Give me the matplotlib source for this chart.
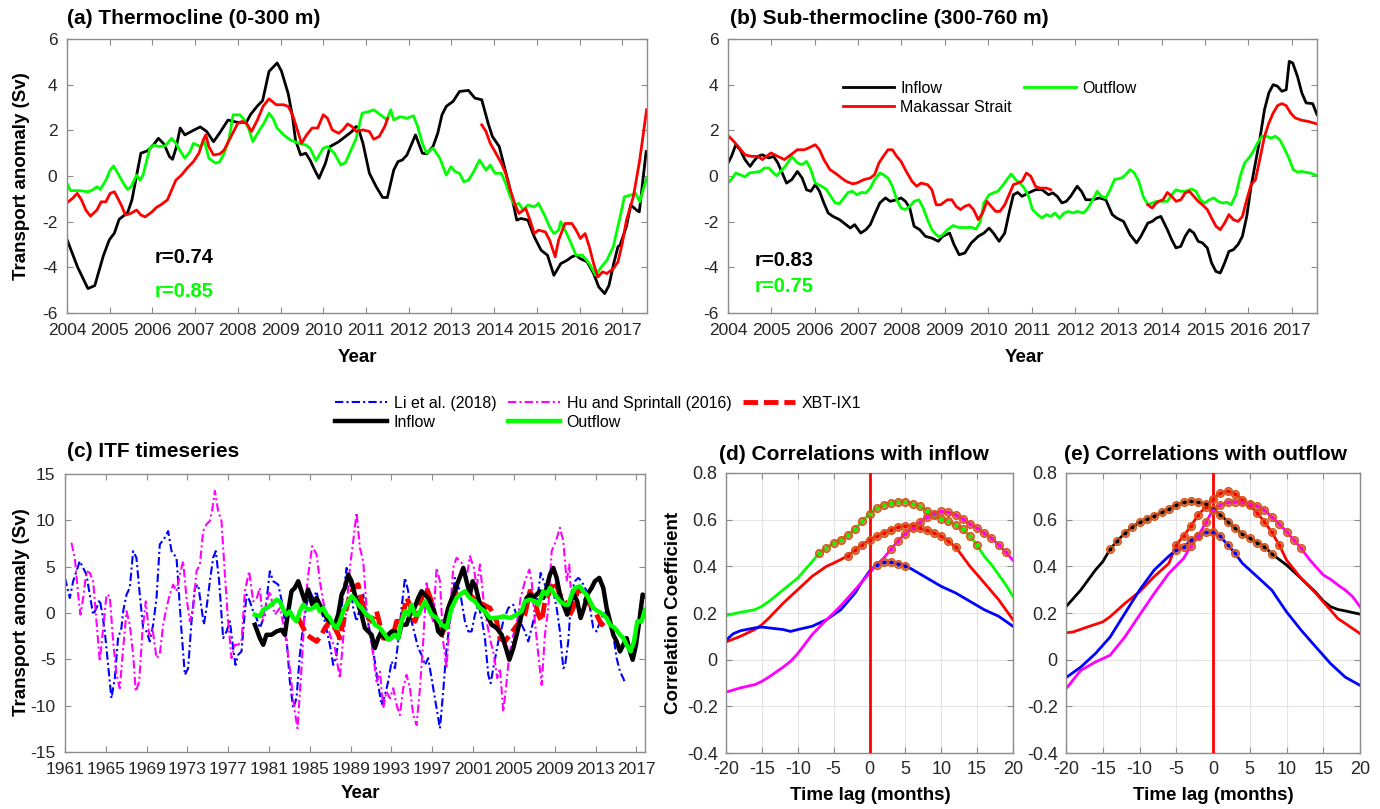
import matplotlib
matplotlib.use('Agg')
import matplotlib.pyplot as plt
import numpy as np

plt.rcParams['font.family'] = ['Liberation Sans', 'DejaVu Sans']
plt.rcParams['axes.unicode_minus'] = False

# ---------------- Panel (a): thermocline ----------------
a_in_t = [2004.00, 2004.25, 2004.49, 2004.65, 2004.85, 2004.99, 2005.11, 2005.22, 2005.42, 2005.52, 2005.73, 2005.88,
          2006.04, 2006.14, 2006.27, 2006.40, 2006.47, 2006.55, 2006.65, 2006.76, 2006.96, 2007.12, 2007.27, 2007.43,
          2007.58, 2007.77, 2007.99, 2008.20, 2008.30, 2008.46, 2008.58, 2008.73, 2008.92, 2009.02, 2009.18, 2009.28,
          2009.35, 2009.47, 2009.59, 2009.69, 2009.80, 2009.90, 2010.05, 2010.16, 2010.36, 2010.52, 2010.67, 2010.77,
          2010.82, 2010.93, 2011.08, 2011.24, 2011.39, 2011.50, 2011.65, 2011.75, 2011.85, 2011.96, 2012.16, 2012.32,
          2012.42, 2012.57, 2012.68, 2012.78, 2012.88, 2013.04, 2013.19, 2013.40, 2013.55, 2013.71, 2013.86, 2013.96,
          2014.12, 2014.22, 2014.32, 2014.43, 2014.53, 2014.63, 2014.79, 2014.94, 2015.10, 2015.25, 2015.40, 2015.56,
          2015.71, 2015.82, 2015.92, 2016.02, 2016.18, 2016.33, 2016.45, 2016.59, 2016.69, 2016.80, 2016.90, 2016.95,
          2017.10, 2017.20, 2017.34, 2017.40, 2017.56]
a_in_v = [-2.78, -4.00, -4.93, -4.80, -3.50, -2.80, -2.50, -1.90, -1.60, -1.05, 1.00, 1.10,
          1.40, 1.65, 1.40, 0.85, 0.73, 1.20, 2.10, 1.80, 2.00, 2.15, 1.95, 1.50,
          1.90, 2.45, 2.35, 2.35, 2.70, 3.07, 3.30, 4.58, 4.95, 4.60, 3.60, 2.60,
          1.58, 0.92, 1.00, 0.70, 0.26, -0.10, 0.55, 1.29, 1.50, 1.73, 1.95, 2.17,
          2.10, 1.43, 0.12, -0.47, -0.94, -0.94, 0.26, 0.63, 0.70, 0.92, 1.80, 1.00,
          0.97, 1.29, 1.87, 2.68, 3.05, 3.27, 3.70, 3.75, 3.41, 3.34, 2.31, 1.73,
          1.29, 0.56, -0.18, -1.05, -1.93, -1.86, -1.93, -2.66, -3.25, -3.47, -4.35, -3.84,
          -3.69, -3.54, -3.47, -3.62, -3.76, -4.27, -4.86, -5.15, -4.79, -3.84, -3.10, -3.03,
          -2.20, -1.27, -1.50, -1.57, 1.07]

a_out_t = [2004.00, 2004.08, 2004.29, 2004.49, 2004.60, 2004.70, 2004.78, 2004.91, 2005.01, 2005.09, 2005.19, 2005.32,
           2005.42, 2005.50, 2005.63, 2005.71, 2005.78, 2005.94, 2006.04, 2006.14, 2006.30, 2006.45, 2006.55, 2006.66,
           2006.76, 2006.88, 2006.96, 2007.12, 2007.22, 2007.32, 2007.48, 2007.58, 2007.68, 2007.79, 2007.89, 2008.05,
           2008.15, 2008.25, 2008.35, 2008.51, 2008.61, 2008.73, 2008.82, 2008.92, 2009.07, 2009.23, 2009.43, 2009.59,
           2009.69, 2009.83, 2010.00, 2010.10, 2010.26, 2010.41, 2010.52, 2010.67, 2010.77, 2010.91, 2011.08, 2011.18,
           2011.34, 2011.49, 2011.58, 2011.65, 2011.80, 2011.96, 2012.11, 2012.21, 2012.32, 2012.42, 2012.57, 2012.73,
           2012.88, 2012.99, 2013.09, 2013.19, 2013.29, 2013.40, 2013.50, 2013.66, 2013.81, 2013.91, 2014.02, 2014.17,
           2014.27, 2014.38, 2014.48, 2014.58, 2014.68, 2014.79, 2014.94, 2015.04, 2015.20, 2015.30, 2015.40, 2015.51,
           2015.56, 2015.66, 2015.77, 2015.92, 2016.07, 2016.23, 2016.38, 2016.48, 2016.64, 2016.79, 2016.95, 2017.05,
           2017.21, 2017.31, 2017.41, 2017.57]
a_out_v = [-0.32, -0.64, -0.64, -0.69, -0.61, -0.47, -0.59, -0.18, 0.26, 0.44, 0.12, -0.32,
           -0.59, -0.47, 0.04, -0.18, 0.04, 1.22, 1.36, 1.29, 1.32, 1.65, 1.43, 1.07,
           0.78, 1.07, 1.43, 1.29, 1.51, 0.78, 0.56, 0.63, 1.00, 1.58, 2.68, 2.68,
           2.46, 2.10, 1.51, 2.02, 2.31, 2.75, 2.53, 2.10, 1.80, 1.58, 1.43, 1.36,
           1.22, 0.67, 1.22, 1.29, 1.00, 0.48, 0.59, 1.22, 1.65, 2.75, 2.83, 2.90,
           2.68, 2.46, 2.90, 2.46, 2.60, 2.53, 2.64, 2.17, 1.43, 1.00, 1.22, 0.78,
           0.04, 0.41, 0.19, 0.12, -0.25, -0.18, 0.12, 0.70, 0.26, 0.48, 0.12, 0.12,
           -0.32, -0.91, -1.27, -1.20, -1.49, -1.27, -1.35, -1.20, -1.79, -2.23, -2.52, -2.37,
           -2.00, -2.37, -2.81, -3.47, -3.47, -3.84, -4.35, -4.06, -3.69, -3.10, -1.79, -0.91,
           -0.83, -0.76, -1.13, -0.10]

a_mak1_t = [2004.00, 2004.13, 2004.24, 2004.34, 2004.44, 2004.55, 2004.70, 2004.80, 2004.91, 2005.01, 2005.11, 2005.27,
            2005.37, 2005.49, 2005.63, 2005.73, 2005.83, 2005.99, 2006.09, 2006.19, 2006.35, 2006.45, 2006.55, 2006.68,
            2006.81, 2006.96, 2007.09, 2007.19, 2007.25, 2007.32, 2007.43, 2007.58, 2007.68, 2007.84, 2008.00, 2008.10,
            2008.20, 2008.32, 2008.46, 2008.59, 2008.73, 2008.90, 2009.07, 2009.18, 2009.28, 2009.38, 2009.49, 2009.61,
            2009.74, 2009.87, 2010.00, 2010.10, 2010.21, 2010.36, 2010.46, 2010.57, 2010.67, 2010.77, 2010.93, 2011.08,
            2011.18, 2011.31, 2011.44, 2011.51]
a_mak1_v = [-1.17, -0.98, -0.76, -1.05, -1.49, -1.76, -1.49, -1.13, -1.13, -0.76, -0.69, -1.27,
            -1.71, -1.64, -1.49, -1.71, -1.79, -1.57, -1.38, -1.27, -1.05, -0.61, -0.18, 0.04,
            0.34, 0.63, 1.00, 1.58, 1.80, 1.29, 0.92, 0.97, 1.14, 1.73, 2.31, 2.39,
            2.31, 1.95, 2.46, 3.05, 3.38, 3.12, 3.12, 3.05, 2.68, 2.10, 1.43, 1.80,
            2.10, 2.10, 2.68, 2.53, 2.02, 1.87, 2.02, 2.28, 2.17, 1.95, 2.02, 1.95,
            1.61, 1.73, 2.17, 2.53]
a_mak2_t = [2013.71, 2013.81, 2013.91, 2014.02, 2014.17, 2014.27, 2014.38, 2014.48, 2014.58, 2014.74, 2014.84, 2014.94,
            2015.04, 2015.20, 2015.30, 2015.43, 2015.51, 2015.66, 2015.82, 2015.92, 2016.02, 2016.13, 2016.23, 2016.33,
            2016.43, 2016.54, 2016.64, 2016.79, 2016.90, 2017.00, 2017.10, 2017.26, 2017.41, 2017.57]
a_mak2_v = [2.24, 1.95, 1.43, 1.07, 0.56, 0.12, -0.61, -1.20, -1.64, -1.42, -1.93, -2.52,
            -2.37, -2.45, -2.81, -3.54, -2.81, -2.08, -2.08, -2.37, -2.74, -2.52, -3.10, -3.84,
            -4.42, -4.20, -4.27, -4.06, -3.76, -2.96, -1.93, -0.91, 0.70, 2.90]

# ---------------- Panel (b): sub-thermocline ----------------
b_in_t = [2004.00, 2004.08, 2004.18, 2004.28, 2004.39, 2004.51, 2004.59, 2004.69, 2004.79, 2004.94, 2005.05, 2005.15,
          2005.25, 2005.35, 2005.47, 2005.60, 2005.71, 2005.81, 2005.91, 2006.01, 2006.11, 2006.21, 2006.31, 2006.42,
          2006.57, 2006.72, 2006.82, 2006.92, 2007.06, 2007.18, 2007.28, 2007.38, 2007.50, 2007.63, 2007.74, 2007.89,
          2007.99, 2008.09, 2008.19, 2008.29, 2008.42, 2008.55, 2008.70, 2008.85, 2008.95, 2009.11, 2009.21, 2009.33,
          2009.46, 2009.61, 2009.77, 2009.90, 2010.02, 2010.12, 2010.25, 2010.38, 2010.48, 2010.58, 2010.68, 2010.78,
          2010.93, 2011.09, 2011.24, 2011.39, 2011.49, 2011.59, 2011.70, 2011.80, 2011.90, 2012.05, 2012.15, 2012.25,
          2012.41, 2012.56, 2012.71, 2012.86, 2012.96, 2013.12, 2013.27, 2013.42, 2013.52, 2013.68, 2013.78, 2013.88,
          2013.98, 2014.13, 2014.23, 2014.33, 2014.44, 2014.54, 2014.64, 2014.74, 2014.84, 2014.94, 2015.05, 2015.15,
          2015.25, 2015.35, 2015.45, 2015.55, 2015.65, 2015.76, 2015.86, 2015.96, 2016.06, 2016.16, 2016.26, 2016.37,
          2016.47, 2016.57, 2016.67, 2016.77, 2016.87, 2016.94, 2017.02, 2017.13, 2017.23, 2017.33, 2017.48, 2017.58]
b_in_v = [0.57, 0.86, 1.37, 1.15, 0.72, 0.42, 0.64, 0.86, 0.93, 0.79, 0.86, 0.57,
          0.13, -0.31, -0.16, 0.20, -0.09, -0.60, -0.67, -0.38, -0.67, -1.18, -1.62, -1.77,
          -1.91, -2.13, -2.28, -2.13, -2.50, -2.35, -2.13, -1.69, -1.18, -0.96, -1.11, -1.04,
          -0.96, -1.11, -1.40, -2.20, -2.35, -2.64, -2.72, -2.86, -2.64, -2.50, -3.00, -3.45,
          -3.37, -2.93, -2.64, -2.50, -2.28, -2.50, -2.86, -2.50, -1.62, -0.82, -0.72, -0.89,
          -0.74, -0.60, -0.60, -0.82, -0.74, -0.89, -1.18, -1.11, -0.89, -0.45, -0.67, -1.04,
          -1.04, -0.96, -1.04, -1.69, -1.84, -1.99, -2.57, -2.93, -2.64, -2.06, -1.99, -1.84,
          -1.77, -2.35, -2.79, -3.15, -3.08, -2.64, -2.35, -2.50, -2.86, -2.93, -3.15, -3.81,
          -4.18, -4.25, -3.81, -3.30, -3.23, -3.00, -2.64, -1.77, -0.45, 0.57, 1.59, 2.91,
          3.64, 4.00, 3.93, 3.71, 3.78, 5.02, 4.95, 4.36, 3.64, 3.20, 3.17, 2.69]

b_out_t = [2004.00, 2004.10, 2004.18, 2004.28, 2004.39, 2004.49, 2004.64, 2004.74, 2004.84, 2004.94, 2005.05, 2005.12,
           2005.25, 2005.35, 2005.47, 2005.60, 2005.71, 2005.81, 2005.91, 2006.01, 2006.16, 2006.26, 2006.37, 2006.47,
           2006.57, 2006.67, 2006.77, 2006.87, 2006.97, 2007.08, 2007.18, 2007.28, 2007.38, 2007.50, 2007.58, 2007.69,
           2007.79, 2007.89, 2007.99, 2008.09, 2008.19, 2008.29, 2008.40, 2008.50, 2008.60, 2008.70, 2008.80, 2008.88,
           2008.95, 2009.06, 2009.19, 2009.31, 2009.46, 2009.61, 2009.72, 2009.82, 2009.90, 2010.02, 2010.12, 2010.22,
           2010.32, 2010.43, 2010.53, 2010.63, 2010.73, 2010.83, 2010.93, 2011.02, 2011.14, 2011.24, 2011.34, 2011.44,
           2011.54, 2011.64, 2011.75, 2011.85, 2011.95, 2012.05, 2012.20, 2012.30, 2012.41, 2012.51, 2012.61, 2012.71,
           2012.81, 2012.91, 2013.07, 2013.17, 2013.27, 2013.37, 2013.47, 2013.57, 2013.68, 2013.78, 2013.88, 2014.03,
           2014.13, 2014.23, 2014.33, 2014.44, 2014.54, 2014.69, 2014.79, 2014.89, 2014.99, 2015.10, 2015.20, 2015.30,
           2015.40, 2015.50, 2015.60, 2015.71, 2015.81, 2015.91, 2016.01, 2016.11, 2016.21, 2016.31, 2016.42, 2016.52,
           2016.62, 2016.72, 2016.82, 2016.93, 2017.03, 2017.13, 2017.23, 2017.33, 2017.43, 2017.58]
b_out_v = [-0.31, -0.09, 0.13, 0.06, -0.04, 0.13, 0.17, 0.20, 0.35, 0.35, 0.13, 0.01,
           0.28, 0.50, 0.86, 0.57, 0.50, 0.64, 0.28, -0.31, -0.45, -0.57, -0.89, -1.18,
           -1.21, -0.96, -0.72, -0.67, -0.82, -0.72, -0.74, -0.53, -0.16, 0.13, 0.06, -0.09,
           -0.45, -1.04, -1.40, -1.47, -1.33, -1.11, -1.04, -1.40, -1.91, -2.35, -2.57, -2.67,
           -2.57, -2.35, -2.17, -2.25, -2.26, -2.25, -2.32, -1.99, -1.18, -0.82, -0.74, -0.67,
           -0.45, -0.16, 0.09, -0.16, -0.31, -0.53, -0.89, -1.47, -1.69, -1.84, -1.69, -1.77,
           -1.62, -1.84, -1.62, -1.55, -1.62, -1.55, -1.62, -1.40, -1.04, -0.67, -0.89, -0.96,
           -0.60, -0.16, -0.09, 0.06, 0.28, 0.13, -0.23, -0.89, -1.26, -1.18, -1.11, -1.11,
           -1.11, -0.82, -0.60, -0.67, -0.67, -0.57, -0.67, -1.04, -1.18, -1.04, -0.96, -1.11,
           -1.18, -1.15, -1.26, -0.82, -0.01, 0.57, 0.79, 1.08, 1.45, 1.74, 1.74, 1.66,
           1.74, 1.59, 1.23, 0.79, 0.28, 0.17, 0.20, 0.16, 0.13, 0.01]

b_mak1_t = [2004.00, 2004.13, 2004.23, 2004.39, 2004.54, 2004.69, 2004.79, 2004.89, 2004.99, 2005.15, 2005.30, 2005.45,
            2005.60, 2005.76, 2005.86, 2006.01, 2006.11, 2006.21, 2006.35, 2006.47, 2006.62, 2006.72, 2006.87, 2006.97,
            2007.13, 2007.28, 2007.38, 2007.48, 2007.58, 2007.69, 2007.79, 2007.89, 2007.99, 2008.11, 2008.24, 2008.35,
            2008.45, 2008.60, 2008.70, 2008.80, 2008.90, 2009.06, 2009.16, 2009.26, 2009.36, 2009.46, 2009.56, 2009.66,
            2009.77, 2009.87, 2009.97, 2010.07, 2010.17, 2010.27, 2010.38, 2010.48, 2010.58, 2010.68, 2010.78, 2010.88,
            2010.98, 2011.09, 2011.19, 2011.34, 2011.44]
b_mak1_v = [1.77, 1.52, 1.30, 0.93, 0.86, 0.86, 0.72, 0.86, 1.01, 0.86, 0.72, 0.93,
            1.15, 1.15, 1.23, 1.37, 1.15, 0.72, 0.28, 0.13, -0.09, -0.23, -0.34, -0.31,
            -0.16, -0.09, 0.06, 0.57, 0.86, 1.15, 1.15, 0.86, 0.64, 0.20, -0.23, -0.45,
            -0.31, -0.38, -0.60, -1.26, -1.26, -1.04, -1.04, -1.33, -1.47, -1.33, -1.26, -1.47,
            -1.91, -1.62, -1.11, -1.33, -1.55, -1.55, -1.26, -0.82, -0.38, -0.31, -0.23, 0.13,
            -0.01, -0.45, -0.53, -0.53, -0.60]
b_mak2_t = [2013.68, 2013.78, 2013.86, 2013.93, 2014.03, 2014.13, 2014.23, 2014.33, 2014.44, 2014.54, 2014.64, 2014.74,
            2014.84, 2014.94, 2015.05, 2015.15, 2015.25, 2015.35, 2015.45, 2015.55, 2015.65, 2015.76, 2015.86, 2015.96,
            2016.06, 2016.16, 2016.26, 2016.37, 2016.47, 2016.57, 2016.67, 2016.77, 2016.87, 2016.97, 2017.08, 2017.23,
            2017.38, 2017.58]
b_mak2_v = [-1.26, -1.40, -1.21, -1.11, -1.04, -0.72, -0.89, -1.11, -1.04, -0.74, -0.67, -0.89,
            -1.11, -1.26, -1.47, -1.84, -2.20, -2.35, -2.06, -1.69, -1.91, -1.99, -1.77, -1.04,
            -0.38, -0.16, 0.72, 1.74, 2.32, 2.76, 3.08, 3.17, 3.08, 2.76, 2.54, 2.44,
            2.39, 2.28]

# ---------------- Panel (c): ITF timeseries ----------------
li_t = [1961.00, 1961.47, 1961.80, 1962.12, 1962.45, 1962.78, 1963.10, 1963.43, 1963.76, 1964.09, 1964.41, 1964.67,
        1964.90, 1965.23, 1965.55, 1965.88, 1966.20, 1966.53, 1966.70, 1967.03, 1967.35, 1967.68, 1968.00, 1968.33,
        1968.66, 1968.99, 1969.31, 1969.64, 1969.97, 1970.29, 1970.78, 1971.11, 1971.44, 1971.93, 1972.09, 1972.42,
        1972.75, 1973.07, 1973.40, 1973.73, 1974.05, 1974.38, 1974.61, 1974.87, 1975.20, 1975.52, 1975.78, 1976.11,
        1976.50, 1976.83, 1977.16, 1977.48, 1977.71, 1977.97, 1978.30, 1978.46, 1978.79, 1979.12, 1979.44, 1979.77,
        1980.10, 1980.59, 1981.08, 1981.41, 1981.90, 1982.39, 1982.71, 1983.04, 1983.37, 1983.69, 1984.02, 1984.35,
        1984.68, 1985.00, 1985.33, 1985.66, 1985.98, 1986.47, 1986.96, 1987.29, 1987.62, 1987.94, 1988.27, 1988.60,
        1988.92, 1989.25, 1989.58, 1989.90, 1990.23, 1990.56, 1990.88, 1991.37, 1991.70, 1992.03, 1992.36, 1992.68,
        1993.01, 1993.34, 1993.66, 1993.99, 1994.32, 1994.64, 1994.97, 1995.30, 1995.62, 1995.95, 1996.28, 1996.60,
        1996.93, 1997.42, 1997.75, 1998.07, 1998.40, 1998.89, 1999.22, 1999.71, 2000.20, 2000.53, 2000.85, 2001.18,
        2001.51, 2001.83, 2002.16, 2002.49, 2002.72, 2002.98, 2003.47, 2003.96, 2004.45, 2004.94, 2005.43, 2005.76,
        2006.08, 2006.41, 2006.74, 2007.06, 2007.39, 2007.62, 2008.04, 2008.53, 2008.86, 2009.19, 2009.51, 2009.84,
        2010.00, 2010.33, 2010.66, 2010.98, 2011.31, 2011.64, 2012.13, 2012.46, 2012.78, 2013.11, 2013.44, 2013.76,
        2014.09, 2014.42, 2014.74, 2015.07, 2015.40, 2015.72, 2015.89]
li_v = [3.79, 1.62, 3.43, 4.51, 5.60, 4.87, 4.15, 1.99, -0.18, 0.54, 1.44, -0.18,
        -1.99, -5.60, -9.21, -7.04, -2.71, -1.62, 0.18, 1.99, 2.71, 6.68, 5.96, 1.99,
        -1.62, -1.99, -3.07, -1.26, 1.62, 7.40, 8.12, 8.84, 6.68, 5.96, 3.43, -1.99,
        -6.68, -5.96, -0.90, 2.71, 3.07, 0.54, -1.26, 0.54, 3.43, 5.96, 6.68, 3.43,
        -2.71, -1.99, -0.90, -3.79, -5.60, -4.51, -4.15, -1.99, 1.99, 1.26, 0.18, -0.54,
        -1.62, -0.18, 4.51, 3.43, 3.07, 0.54, -2.71, -7.40, -10.29, -9.21, -4.51, -1.26,
        0.90, 2.35, 1.62, 2.35, 0.54, -0.90, -3.43, -5.60, -4.51, -0.90, 1.99, 4.87,
        3.43, 0.54, -0.90, 0.54, 1.99, -0.18, -1.99, -5.23, -7.76, -9.93, -8.84, -7.40,
        -5.23, -5.96, -3.07, 0.54, 3.79, 2.35, -0.90, -2.35, -3.79, -4.51, -5.60, -4.87,
        -7.04, -10.29, -12.45, -8.48, -3.79, 0.54, 3.79, 2.35, -0.90, -1.99, -1.99, -0.18,
        0.90, -0.54, -2.71, -6.68, -7.58, -5.96, -3.07, -0.90, 0.54, 0.90, -0.90, -1.26,
        -1.99, -3.07, -1.62, -0.18, 2.35, 4.33, 3.07, 1.99, 2.35, 0.54, -1.99, -5.96,
        -5.78, -3.07, 2.35, 3.43, 3.79, 3.43, 2.35, 0.54, -1.62, -1.99, -0.90, -0.18,
        0.18, -0.90, -2.35, -4.87, -6.32, -7.04, -7.58]

hu_t = [1961.63, 1961.96, 1962.29, 1962.52, 1962.78, 1963.10, 1963.43, 1963.76, 1964.09, 1964.41, 1964.74, 1965.07,
        1965.39, 1965.72, 1966.05, 1966.37, 1966.70, 1967.03, 1967.35, 1967.68, 1967.94, 1968.27, 1968.59, 1968.92,
        1969.25, 1969.57, 1969.97, 1970.29, 1970.62, 1970.95, 1971.27, 1971.60, 1971.93, 1972.25, 1972.58, 1972.91,
        1973.24, 1973.56, 1973.89, 1974.22, 1974.54, 1974.87, 1975.20, 1975.46, 1975.69, 1976.01, 1976.34, 1976.67,
        1976.99, 1977.32, 1977.65, 1977.97, 1978.30, 1978.63, 1979.05, 1979.44, 1979.77, 1980.10, 1980.40, 1980.59,
        1981.08, 1981.57, 1982.06, 1982.55, 1983.04, 1983.47, 1983.79, 1984.18, 1984.51, 1984.84, 1985.23, 1985.66,
        1985.98, 1986.31, 1986.64, 1986.96, 1987.45, 1987.94, 1988.27, 1988.60, 1988.92, 1989.25, 1989.58, 1989.90,
        1990.23, 1990.56, 1990.88, 1991.21, 1991.54, 1991.87, 1992.19, 1992.52, 1992.85, 1993.17, 1993.50, 1993.83,
        1994.15, 1994.48, 1994.81, 1995.13, 1995.46, 1995.79, 1996.11, 1996.44, 1996.77, 1997.09, 1997.42, 1997.75,
        1998.07, 1998.40, 1998.73, 1999.05, 1999.38, 1999.87, 2000.36, 2000.69, 2001.08, 2001.34, 2001.67, 2002.00,
        2002.33, 2002.72, 2003.04, 2003.37, 2003.63, 2003.96, 2004.22, 2004.55, 2004.94, 2005.27, 2005.66, 2006.08,
        2006.51, 2006.74, 2007.06, 2007.39, 2007.72, 2008.04, 2008.37, 2008.70, 2009.12, 2009.51, 2009.84, 2010.17,
        2010.43, 2010.56]
hu_v = [7.58, 5.96, 1.99, -0.18, 1.62, 4.51, 4.33, 3.43, -0.90, -5.23, -1.62, 1.99,
        1.81, -3.07, -6.68, -8.12, -3.79, 0.18, -1.26, -4.51, -8.48, -7.40, -1.99, 1.26,
        -2.35, -1.62, -4.87, -4.51, -1.26, 0.54, 1.99, 3.07, 2.35, 4.15, 5.60, 1.62,
        -0.90, 0.54, 4.51, 5.23, 8.84, 9.57, 9.93, 11.37, 13.18, 11.01, 9.93, 4.15,
        -0.90, -4.87, -3.43, -3.43, -3.07, 2.35, 4.51, 1.26, 1.50, 2.71, -0.90, 0.54,
        2.35, -0.18, 0.54, -1.99, -5.96, -10.29, -12.45, -5.96, 0.54, 4.15, 7.22, 6.32,
        3.43, 1.26, -0.54, -2.35, -3.79, -7.04, -2.71, 0.54, 4.87, 7.76, 10.83, 7.04,
        5.60, 0.54, -2.35, -4.51, -7.40, -6.32, -10.29, -8.48, -9.21, -8.12, -9.93, -11.01,
        -8.12, -6.68, -8.12, -11.01, -12.09, -8.12, -3.07, 3.43, 0.18, -0.90, 4.87, 3.43,
        -3.07, -5.96, -0.18, 4.87, 5.96, 5.42, 3.79, 6.14, 4.87, 2.71, 5.23, 1.62,
        -0.90, -3.07, -4.51, -7.04, -5.96, -10.65, -8.12, -4.51, -2.35, -1.26, 1.62, 3.43,
        4.69, 3.43, -0.90, -4.51, -7.76, -2.35, 0.54, 6.68, 7.76, 9.21, 7.76, 3.43,
        5.23, 2.71]

xbt_t = [1983.86, 1984.35, 1984.68, 1985.17, 1985.66, 1986.15, 1986.47, 1986.96, 1987.45, 1987.94, 1988.27, 1988.76,
         1989.25, 1989.74, 1990.07, 1990.56, 1991.05, 1991.54, 1991.87, 1992.19, 1992.68, 1993.17, 1993.50, 1993.99,
         1994.48, 1994.81, 1995.30, 1995.79, 1996.11, 1996.44, 1996.93, 1997.42, 1997.91, 1998.40, 1998.89, 1999.38,
         2000.04, 2000.69, 2001.34, 2002.00, 2002.65, 2003.31, 2003.63, 2004.12, 2004.61, 2005.10, 2005.59, 2006.08,
         2006.57, 2007.06, 2007.39, 2007.72, 2008.04, 2008.53, 2009.02, 2009.51, 2010.00, 2010.33, 2010.82, 2011.31,
         2011.64, 2012.13, 2012.78, 2013.27, 2013.60, 2013.92]
xbt_v = [-0.54, -1.62, -2.35, -2.71, -3.07, -2.35, -1.62, -0.90, -1.62, -2.71, -0.90, 1.26,
         2.71, 3.07, 1.26, -0.18, -0.90, 0.18, -1.26, -2.71, -2.71, -2.35, -0.90, -0.90,
         1.62, 0.90, -0.90, 0.54, 2.35, 2.71, 1.26, -0.90, -2.35, -1.26, 1.26, 2.35,
         2.35, 1.99, 1.26, 0.90, 0.54, -0.90, -2.71, -3.07, -2.35, -1.62, -0.90, -0.18,
         2.35, 1.26, -0.18, -0.90, 1.26, 2.35, 3.43, 1.99, 1.26, -0.54, 0.54, 2.71,
         2.35, 1.26, 0.54, -0.54, -1.26, -0.90]

c_in_t = [1979.61, 1980.10, 1980.43, 1980.75, 1981.24, 1981.73, 1982.22, 1982.55, 1982.88, 1983.20, 1983.53, 1983.86,
          1984.18, 1984.51, 1984.84, 1985.23, 1985.66, 1985.98, 1986.31, 1986.64, 1986.96, 1987.45, 1987.78, 1988.11,
          1988.43, 1988.76, 1989.09, 1989.41, 1989.74, 1990.07, 1990.39, 1990.72, 1991.05, 1991.37, 1991.70, 1992.03,
          1992.36, 1992.68, 1993.01, 1993.34, 1993.66, 1993.99, 1994.48, 1994.81, 1995.13, 1995.62, 1995.95, 1996.28,
          1996.60, 1996.93, 1997.26, 1997.58, 1997.91, 1998.24, 1998.56, 1999.06, 1999.55, 2000.04, 2000.36, 2000.69,
          2000.95, 2001.28, 2001.67, 2002.00, 2002.33, 2002.81, 2003.31, 2003.80, 2004.22, 2004.55, 2004.94, 2005.27,
          2005.59, 2005.92, 2006.25, 2006.57, 2006.90, 2007.23, 2007.55, 2007.88, 2008.20, 2008.53, 2008.86, 2009.19,
          2009.51, 2009.84, 2010.23, 2010.56, 2010.89, 2011.21, 2011.54, 2011.87, 2012.19, 2012.62, 2012.94, 2013.37,
          2013.76, 2014.09, 2014.42, 2014.74, 2015.07, 2015.40, 2015.72, 2016.05, 2016.38, 2016.64, 2016.97, 2017.29,
          2017.62, 2017.85]
c_in_v = [-1.26, -2.71, -3.43, -2.35, -2.35, -1.99, -1.81, -2.35, 0.18, 2.35, 2.71, 3.43,
          2.35, 1.26, 2.53, 0.90, 1.62, 0.90, 0.18, -0.54, -0.90, -1.26, -0.18, 1.99,
          2.71, 4.15, 3.43, 1.99, 0.90, -0.18, -1.62, -1.99, -2.35, -3.79, -2.71, -1.99,
          -2.71, -2.35, -1.99, -1.99, -2.71, -1.26, -1.26, -0.18, 0.18, 1.62, 2.35, 1.99,
          1.62, 0.90, -0.18, -1.99, -2.35, -0.90, 0.54, 1.99, 3.43, 4.87, 3.43, 1.99,
          3.43, 2.71, 0.90, 0.54, -0.18, -1.26, -1.62, -2.35, -3.79, -5.05, -3.79, -2.35,
          -0.90, 0.54, 1.62, 1.99, 1.62, 1.99, 2.35, 1.62, 2.71, 4.15, 4.87, 3.79,
          1.99, 0.90, -0.18, 1.26, 1.99, 1.26, -0.54, 0.54, 1.99, 2.71, 3.43, 3.79,
          2.71, 0.54, -0.90, -2.35, -3.07, -4.15, -3.43, -2.71, -4.15, -5.05, -3.43, -0.90,
          1.99, 1.80]

c_out_t = [1979.61, 1980.10, 1980.43, 1980.75, 1981.24, 1981.73, 1982.06, 1982.39, 1982.71, 1983.04, 1983.37, 1983.69,
           1984.02, 1984.35, 1984.84, 1985.33, 1985.66, 1985.98, 1986.31, 1986.64, 1986.96, 1987.29, 1987.62, 1987.94,
           1988.27, 1988.60, 1989.09, 1989.41, 1989.74, 1990.07, 1990.56, 1991.05, 1991.37, 1991.87, 1992.36, 1992.68,
           1993.01, 1993.34, 1993.66, 1993.99, 1994.32, 1994.64, 1994.97, 1995.30, 1995.62, 1995.95, 1996.28, 1996.60,
           1996.93, 1997.42, 1997.91, 1998.40, 1998.89, 1999.38, 1999.71, 2000.20, 2000.69, 2001.18, 2001.67, 2002.16,
           2002.65, 2003.31, 2003.96, 2004.61, 2005.27, 2005.76, 2006.08, 2006.57, 2007.06, 2007.39, 2007.88, 2008.20,
           2008.53, 2009.02, 2009.51, 2010.00, 2010.33, 2010.66, 2010.98, 2011.47, 2011.80, 2012.13, 2012.46, 2012.78,
           2013.27, 2013.76, 2014.09, 2014.42, 2014.90, 2015.40, 2015.72, 2016.05, 2016.44, 2016.77, 2017.09, 2017.52,
           2017.85]
c_out_v = [-0.18, -0.36, 0.36, 0.54, 0.90, 1.44, 1.26, 0.36, -0.18, 0.18, -0.54, -0.90,
           0.18, 0.90, 0.36, 0.54, 0.90, 0.18, 0.54, -0.18, -0.54, -1.26, -1.62, -0.90,
           0.18, 0.90, 1.81, 1.44, 0.90, 0.54, -0.18, -0.54, -1.26, -1.62, -2.35, -2.89,
           -2.71, -2.35, -2.71, -0.90, 0.18, -0.18, 0.90, -0.18, -0.18, 0.54, 1.26, 0.54,
           -0.18, -0.54, -1.26, -1.62, 0.54, 1.62, 1.99, 2.35, 1.62, 1.26, 0.54, 0.18,
           -0.54, -0.54, -0.36, -0.54, -0.18, 0.18, 1.26, 1.44, 1.26, 0.90, 2.35, 1.99,
           2.71, 1.99, 1.26, 0.90, 0.90, 1.99, 2.71, 2.89, 2.35, 1.99, 1.26, 0.54,
           0.18, -0.18, -0.54, -1.26, -1.62, -2.35, -2.71, -3.43, -4.15, -3.07, -0.90, -0.90,
           0.36]

# ---------------- Panel (d): correlations with inflow ----------------
d_out_lag = [-20, -18, -16, -15, -14, -12, -10, -8, -7, -6, -5, -4, -3, -2, -1, 0, 1, 2, 3, 4, 5, 6, 7, 8, 9, 10,
             11, 12, 13, 14, 15, 16, 17, 18, 19, 20]
d_out_r = [0.189, 0.203, 0.214, 0.229, 0.250, 0.300, 0.350, 0.420, 0.457, 0.479, 0.500, 0.514, 0.536, 0.560, 0.593,
           0.626, 0.650, 0.664, 0.671, 0.677, 0.677, 0.669, 0.657, 0.639, 0.621, 0.605, 0.593, 0.578, 0.558, 0.530,
           0.490, 0.443, 0.407, 0.364, 0.321, 0.271]
d_mak_lag = [-20, -18, -16, -15, -14, -12, -10, -8, -6, -5, -4, -3, -2, -1, 0, 1, 2, 3, 4, 5, 6, 7, 8, 9, 10, 11,
             12, 14, 16, 18, 20]
d_mak_r = [0.076, 0.100, 0.129, 0.150, 0.179, 0.243, 0.300, 0.357, 0.400, 0.414, 0.429, 0.446, 0.471, 0.493, 0.514,
           0.529, 0.543, 0.557, 0.569, 0.574, 0.574, 0.564, 0.554, 0.543, 0.529, 0.507, 0.483, 0.400, 0.329, 0.257,
           0.171]
d_li_lag = [-20, -19, -18, -16, -15, -14, -12, -11, -10, -8, -6, -5, -4, -2, -1, 0, 1, 2, 3, 4, 5, 6, 8, 10, 12,
            14, 16, 18, 20]
d_li_r = [0.083, 0.111, 0.124, 0.136, 0.140, 0.136, 0.129, 0.121, 0.129, 0.143, 0.171, 0.193, 0.214, 0.286, 0.336,
          0.379, 0.407, 0.417, 0.417, 0.411, 0.403, 0.386, 0.350, 0.314, 0.286, 0.250, 0.214, 0.186, 0.143]
d_hu_lag = [-20, -18, -16, -15, -14, -12, -11, -10, -8, -6, -5, -4, -2, 0, 1, 2, 3, 4, 5, 6, 7, 8, 9, 10, 11, 12,
            13, 14, 15, 16, 17, 18, 19, 20]
d_hu_r = [-0.139, -0.121, -0.107, -0.093, -0.074, -0.031, -0.007, 0.026, 0.107, 0.171, 0.200, 0.231, 0.300, 0.371,
          0.407, 0.436, 0.474, 0.510, 0.540, 0.564, 0.589, 0.611, 0.626, 0.636, 0.631, 0.621, 0.603, 0.583, 0.564,
          0.543, 0.520, 0.493, 0.460, 0.426]
d_out_sig = (-7, 15)
d_mak_sig = (-3, 12)
d_li_sig = (1, 5)
d_hu_sig = (3, 19)

# ---------------- Panel (e): correlations with outflow ----------------
e_in_lag = [-20, -18, -16, -15, -14, -13, -12, -11, -10, -9, -8, -7, -6, -5, -4, -3, -2, -1, 0, 1, 2, 3, 4, 5, 6,
            7, 8, 10, 12, 14, 15, 16, 17, 18, 20]
e_in_r = [0.227, 0.298, 0.384, 0.420, 0.473, 0.510, 0.542, 0.568, 0.588, 0.602, 0.616, 0.631, 0.645, 0.664, 0.674,
          0.678, 0.674, 0.668, 0.645, 0.621, 0.592, 0.563, 0.539, 0.520, 0.502, 0.485, 0.453, 0.406, 0.348, 0.288,
          0.252, 0.227, 0.215, 0.209, 0.195]
e_mak_lag = [-20, -19, -17, -15, -14, -12, -10, -8, -6, -5, -4, -3, -2, -1, 0, 1, 2, 3, 4, 5, 6, 7, 8, 9, 10, 12,
             14, 15, 16, 17, 18, 20]
e_mak_r = [0.115, 0.119, 0.141, 0.162, 0.184, 0.241, 0.291, 0.356, 0.413, 0.492, 0.530, 0.573, 0.621, 0.654, 0.690,
           0.714, 0.722, 0.711, 0.685, 0.664, 0.628, 0.592, 0.545, 0.492, 0.427, 0.348, 0.284, 0.248, 0.212, 0.176,
           0.155, 0.112]
e_li_lag = [-20, -18, -16, -14, -12, -10, -8, -6, -5, -4, -3, -2, -1, 0, 1, 2, 3, 4, 6, 8, 10, 12, 14, 16, 18, 20]
e_li_r = [-0.077, -0.032, 0.026, 0.097, 0.198, 0.298, 0.384, 0.444, 0.470, 0.482, 0.513, 0.530, 0.545, 0.545, 0.528,
          0.492, 0.456, 0.413, 0.356, 0.298, 0.205, 0.126, 0.054, -0.017, -0.075, -0.110]
e_hu_lag = [-20, -18, -16, -14, -12, -10, -8, -6, -4, -3, -2, -1, 0, 1, 2, 3, 4, 5, 6, 7, 8, 9, 10, 11, 12, 13, 14,
            15, 16, 17, 18, 19, 20]
e_hu_r = [-0.125, -0.046, -0.010, 0.019, 0.097, 0.191, 0.284, 0.370, 0.434, 0.487, 0.530, 0.588, 0.642, 0.664, 0.674,
          0.677, 0.674, 0.668, 0.660, 0.642, 0.611, 0.581, 0.549, 0.513, 0.477, 0.434, 0.398, 0.363, 0.344, 0.320,
          0.298, 0.270, 0.227]
e_in_sig = (-14, 8)
e_mak_sig = (-5, 9)
e_li_sig = (-5, 3)
e_hu_sig = (-3, 12)

# =====================================================================
W, H = 1380, 809
fig = plt.figure(figsize=(W / 100, H / 100), dpi=100)

AX_COL = '#8c8c8c'
TXT_COL = '#262626'
GREEN = (0, 1, 0)
MAG = (1, 0, 1)
SIGC = '#D95319'


def style_axes(ax, pad=7, size=12.5):
    for s in ax.spines.values():
        s.set_color(AX_COL)
        s.set_linewidth(1.0)
    ax.tick_params(direction='in', top=True, right=True, length=4, width=0.8,
                   color=AX_COL, labelcolor=TXT_COL, labelsize=size, pad=pad)


def ftext(x, y, s, **kw):
    fig.text(x / W, 1 - y / H, s, **kw)


# ---------- (a) ----------
ax_a = fig.add_axes([67 / W, 1 - 313 / H, 580 / W, 274 / H])
ax_a.plot(a_in_t, a_in_v, color='k', lw=2)
ax_a.plot(a_out_t, a_out_v, color=GREEN, lw=2)
ax_a.plot(a_mak1_t, a_mak1_v, color='r', lw=2)
ax_a.plot(a_mak2_t, a_mak2_v, color='r', lw=2)
ax_a.set_xlim(2004, 2017.58)
ax_a.set_ylim(-6, 6)
ax_a.set_xticks(range(2004, 2018))
ax_a.set_yticks(range(-6, 7, 2))
style_axes(ax_a)
ax_a.text(2006.05, -3.55, 'r=0.74', color='k', fontsize=14.5, fontweight='bold', va='center')
ax_a.text(2006.05, -5.05, 'r=0.85', color=GREEN, fontsize=14.5, fontweight='bold', va='center')
ftext(67, 18, '(a) Thermocline (0-300 m)', fontsize=15, fontweight='bold', va='center', ha='left')
ftext(357, 357, 'Year', fontsize=13.5, fontweight='bold', ha='center', va='center')
ftext(22, 176, 'Transport anomaly (Sv)', fontsize=13.5, fontweight='bold', ha='center', va='center', rotation=90)

# ---------- (b) ----------
ax_b = fig.add_axes([728 / W, 1 - 313 / H, 589 / W, 274 / H])
l_in, = ax_b.plot(b_in_t, b_in_v, color='k', lw=2, label='Inflow')
l_out, = ax_b.plot(b_out_t, b_out_v, color=GREEN, lw=2, label='Outflow')
l_mak, = ax_b.plot(b_mak1_t, b_mak1_v, color='r', lw=2, label='Makassar Strait')
ax_b.plot(b_mak2_t, b_mak2_v, color='r', lw=2)
ax_b.set_xlim(2004, 2017.58)
ax_b.set_ylim(-6, 6)
ax_b.set_xticks(range(2004, 2018))
ax_b.set_yticks(range(-6, 7, 2))
style_axes(ax_b)
ax_b.legend(handles=[l_in, l_mak, l_out], loc='upper left', bbox_to_anchor=(0.17, 0.90), ncol=2,
            frameon=False, fontsize=11.5, handlelength=3.2, handletextpad=0.4, columnspacing=0.8,
            labelspacing=0.25)
ax_b.text(2004.62, -3.68, 'r=0.83', color='k', fontsize=14.5, fontweight='bold', va='center')
ax_b.text(2004.62, -4.86, 'r=0.75', color=GREEN, fontsize=14.5, fontweight='bold', va='center')
ftext(730, 18, '(b) Sub-thermocline (300-760 m)', fontsize=15, fontweight='bold', va='center', ha='left')
ftext(1024, 357, 'Year', fontsize=13.5, fontweight='bold', ha='center', va='center')

# ---------- (c) ----------
ax_c = fig.add_axes([65 / W, 1 - 752 / H, 580 / W, 278 / H])
h_li, = ax_c.plot(li_t, li_v, color='b', lw=1.5, ls=(0, (4, 1.5, 1, 1.5)), label='Li et al. (2018)')
h_hu, = ax_c.plot(hu_t, hu_v, color=MAG, lw=1.5, ls=(0, (4, 1.5, 1, 1.5)), label='Hu and Sprintall (2016)')
h_xbt, = ax_c.plot(xbt_t, xbt_v, color='r', lw=3.5, ls=(0, (3, 1.2)), label='XBT-IX1')
h_in, = ax_c.plot(c_in_t, c_in_v, color='k', lw=3.2, label='Inflow')
h_out, = ax_c.plot(c_out_t, c_out_v, color=GREEN, lw=3.2, label='Outflow')
ax_c.set_xlim(1961, 2017.85)
ax_c.set_ylim(-15, 15)
ax_c.set_xticks(range(1961, 2018, 4))
ax_c.set_yticks(range(-15, 16, 5))
style_axes(ax_c)
ftext(67, 452, '(c) ITF timeseries', fontsize=15, fontweight='bold', va='center', ha='left')
ftext(360, 793, 'Year', fontsize=13.5, fontweight='bold', ha='center', va='center')
ftext(22, 612, 'Transport anomaly (Sv)', fontsize=13.5, fontweight='bold', ha='center', va='center', rotation=90)

fig.legend(handles=[h_li, h_in, h_hu, h_out, h_xbt], loc='center', bbox_to_anchor=(598 / W, 1 - 413 / H),
           ncol=3, frameon=False, fontsize=11.5, handlelength=3.3, handletextpad=0.4, columnspacing=0.7,
           labelspacing=0.25)


# ---------- (d) & (e) ----------
def corr_panel(ax, series):
    for lag, r, col, sig in series:
        ax.plot(lag, r, color=col, lw=2, zorder=2)
    ax.axvline(0, color='r', lw=2, zorder=3)
    for lag, r, col, sig in series:
        lag = np.asarray(lag, float)
        r = np.asarray(r, float)
        m = (lag >= sig[0]) & (lag <= sig[1])
        ax.plot(lag[m], r[m], 'o', ms=5.5, mfc=(0.85, 0.33, 0.1, 0.7), mec=SIGC, mew=1.0, zorder=4)
        ax.plot(lag[m], r[m], '.', color=col, ms=3.5, zorder=5)
    ax.set_xlim(-20, 20)
    ax.set_ylim(-0.4, 0.8)
    ax.set_xticks(range(-20, 21, 5))
    ax.set_yticks([-0.4, -0.2, 0, 0.2, 0.4, 0.6, 0.8])
    ax.set_yticklabels(['-0.4', '-0.2', '0', '0.2', '0.4', '0.6', '0.8'])
    ax.set_xticklabels([str(v) for v in range(-20, 21, 5)])
    ax.grid(True, color='#e3e3e3', lw=0.8)
    ax.set_axisbelow(True)
    style_axes(ax, pad=6, size=13)


ax_d = fig.add_axes([726 / W, 1 - 753 / H, 287 / W, 280 / H])
corr_panel(ax_d, [(d_out_lag, d_out_r, GREEN, d_out_sig),
                  (d_mak_lag, d_mak_r, 'r', d_mak_sig),
                  (d_li_lag, d_li_r, 'b', d_li_sig),
                  (d_hu_lag, d_hu_r, MAG, d_hu_sig)])
ftext(719, 454, '(d) Correlations with inflow', fontsize=15, fontweight='bold', va='center', ha='left')
ftext(870, 796, 'Time lag (months)', fontsize=13.5, fontweight='bold', ha='center', va='center')
ftext(673, 613, 'Correlation Coefficient', fontsize=13.5, fontweight='bold', ha='center', va='center', rotation=90)

ax_e = fig.add_axes([1066 / W, 1 - 753 / H, 294 / W, 280 / H])
corr_panel(ax_e, [(e_in_lag, e_in_r, 'k', e_in_sig),
                  (e_mak_lag, e_mak_r, 'r', e_mak_sig),
                  (e_li_lag, e_li_r, 'b', e_li_sig),
                  (e_hu_lag, e_hu_r, MAG, e_hu_sig)])
ftext(1064, 454, '(e) Correlations with outflow', fontsize=15, fontweight='bold', va='center', ha='left')
ftext(1213, 796, 'Time lag (months)', fontsize=13.5, fontweight='bold', ha='center', va='center')

fig.savefig('out.png', dpi=100)
